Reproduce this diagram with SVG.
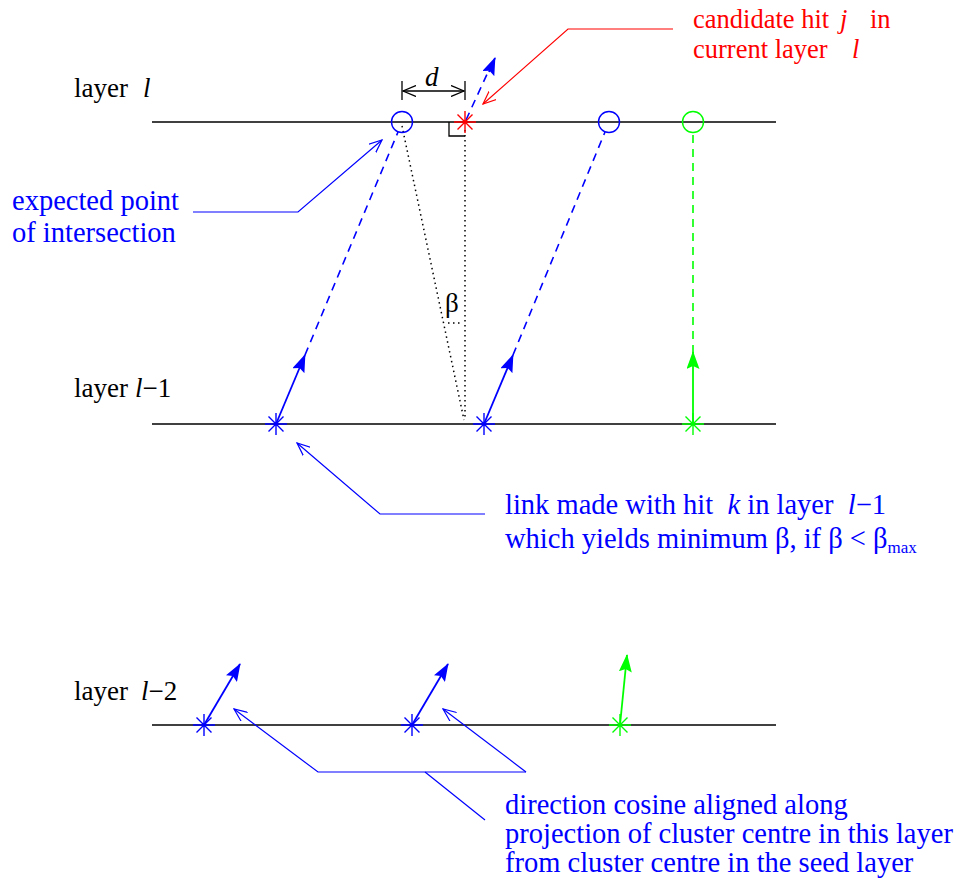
<svg xmlns="http://www.w3.org/2000/svg" width="960" height="881" viewBox="0 0 960 881">
<defs>
<style>
.t{font-family:"Liberation Serif","Times New Roman",serif;font-size:27px}
.bk{fill:#000}.bl{fill:#0000ff;font-size:28.5px}.rd{fill:#ff0000;font-size:26.5px}
.it{font-style:italic}
.layer{stroke:#000;stroke-width:1.6;fill:none}
.dot{stroke:#000;stroke-width:1.5;stroke-dasharray:1.5 3.5;fill:none}
.bdash{stroke:#0000ff;stroke-width:1.6;stroke-dasharray:8 6;fill:none}
.gdash{stroke:#00ff00;stroke-width:1.6;stroke-dasharray:8 6;fill:none}
.barr{stroke:#0000ff;stroke-width:1.8;fill:none}
.garr{stroke:#00ff00;stroke-width:1.8;fill:none}
.bld{stroke:#0000ff;stroke-width:1.2;fill:none}
.rld{stroke:#ff0000;stroke-width:1.2;fill:none}
.bstar{stroke:#0000ff;stroke-width:1.4;fill:none}
.gstar{stroke:#00ff00;stroke-width:1.4;fill:none}
.rstar{stroke:#ff0000;stroke-width:1.4;fill:none}
</style>
<marker id="fb" markerUnits="userSpaceOnUse" viewBox="0 0 18 13" refX="17" refY="6.5" markerWidth="18" markerHeight="13" orient="auto"><path d="M0,0 L18,6.5 L0,13 L3,6.5 z" fill="#0000ff"/></marker>
<marker id="fg" markerUnits="userSpaceOnUse" viewBox="0 0 18 13" refX="17" refY="6.5" markerWidth="18" markerHeight="13" orient="auto"><path d="M0,0 L18,6.5 L0,13 L3,6.5 z" fill="#00ff00"/></marker>
<marker id="ob" markerUnits="userSpaceOnUse" viewBox="0 0 14 12" refX="13" refY="6" markerWidth="14" markerHeight="12" orient="auto"><path d="M0,0.5 L13,6 L0,11.5" fill="none" stroke="#0000ff" stroke-width="1.2"/></marker>
<marker id="or" markerUnits="userSpaceOnUse" viewBox="0 0 14 12" refX="13" refY="6" markerWidth="14" markerHeight="12" orient="auto"><path d="M0,0.5 L13,6 L0,11.5" fill="none" stroke="#ff0000" stroke-width="1.2"/></marker>
<marker id="ok" markerUnits="userSpaceOnUse" viewBox="0 0 14 12" refX="13" refY="6" markerWidth="14" markerHeight="12" orient="auto-start-reverse"><path d="M0,0.5 L13,6 L0,11.5" fill="none" stroke="#000" stroke-width="1.3"/></marker>
<g id="astar"><path d="M-11,0 H11 M0,-11 V11 M-7.5,-7.5 L7.5,7.5 M-7.5,7.5 L7.5,-7.5"/></g>
</defs>
<rect width="960" height="881" fill="#fff"/>

<g id="layers">
<line class="layer" x1="152" y1="122" x2="776" y2="122"/>
<line class="layer" x1="152" y1="424" x2="776" y2="424"/>
<line class="layer" x1="152" y1="725" x2="776" y2="725"/>
<text class="t bk" x="74" y="97">layer<tspan class="it" x="143">l</tspan></text>
<text class="t bk" x="74" y="397">layer<tspan class="it" x="135">l</tspan>−1</text>
<text class="t bk" x="74" y="700">layer<tspan class="it" x="141">l</tspan>−2</text>
</g>

<g id="connectors">
<line class="dot" x1="402" y1="126" x2="464" y2="420"/>
<line class="dot" x1="465" y1="130" x2="465" y2="420"/>
<line class="dot" x1="448" y1="323" x2="463" y2="323"/>
<path d="M449,122 V136 H465" stroke="#000" stroke-width="1.3" fill="none"/>
<line x1="402" y1="81" x2="402" y2="100" stroke="#000" stroke-width="1.3"/>
<line x1="465" y1="81" x2="465" y2="100" stroke="#000" stroke-width="1.3"/>
<line x1="403" y1="91" x2="464" y2="91" stroke="#000" stroke-width="1.3" marker-start="url(#ok)" marker-end="url(#ok)"/>
<line class="bdash" x1="305" y1="355" x2="398" y2="132"/>
<line class="bdash" x1="513" y1="355" x2="605" y2="132"/>
<line class="gdash" x1="693" y1="353" x2="693" y2="132"/>
<line class="bdash" x1="466" y1="120" x2="488" y2="72"/>
<line class="barr" x1="276" y1="424" x2="305" y2="355" marker-end="url(#fb)"/>
<line class="barr" x1="484" y1="424" x2="513" y2="355" marker-end="url(#fb)"/>
<line class="garr" x1="693" y1="424" x2="693" y2="352" marker-end="url(#fg)"/>
<line class="barr" x1="489" y1="72" x2="495" y2="58" marker-end="url(#fb)"/>
<line class="barr" x1="204" y1="725" x2="240" y2="664" marker-end="url(#fb)"/>
<line class="barr" x1="412" y1="725" x2="448" y2="664" marker-end="url(#fb)"/>
<line class="garr" x1="620" y1="725" x2="627" y2="655" marker-end="url(#fg)"/>
<polyline class="rld" points="673,29 568,29 483,104" marker-end="url(#or)"/>
<polyline class="bld" points="193,212 298,212 382,140" marker-end="url(#ob)"/>
<polyline class="bld" points="485,514 380,514 297,443" marker-end="url(#ob)"/>
<polyline class="bld" points="526,772 318,772 234,709" marker-end="url(#ob)"/>
<line class="bld" x1="526" y1="772" x2="443" y2="709" marker-end="url(#ob)"/>
<line class="bld" x1="425" y1="772" x2="485" y2="820"/>
</g>

<g id="circles">
<circle cx="402" cy="122" r="10.5" fill="none" stroke="#0000ff" stroke-width="1.4"/>
<circle cx="609" cy="122" r="10.5" fill="none" stroke="#0000ff" stroke-width="1.4"/>
<circle cx="693" cy="122" r="10.5" fill="none" stroke="#00ff00" stroke-width="1.4"/>
</g>

<g id="hits">
<use href="#astar" class="rstar" x="465" y="122"/>
<use href="#astar" class="bstar" x="276" y="424"/>
<use href="#astar" class="bstar" x="484" y="424"/>
<use href="#astar" class="gstar" x="693" y="424"/>
<use href="#astar" class="bstar" x="204" y="725"/>
<use href="#astar" class="bstar" x="412" y="725"/>
<use href="#astar" class="gstar" x="620" y="725"/>
</g>

<g id="labels">
<text class="t bk it" x="425" y="86">d</text>
<text class="t bk" x="445" y="312">β</text>
<text class="t rd" x="693" y="28">candidate hit<tspan class="it" x="840">j</tspan><tspan x="870">in</tspan></text>
<text class="t rd" x="693" y="58">current layer<tspan class="it" x="852">l</tspan></text>
<text class="t bl" x="12" y="210">expected point</text>
<text class="t bl" x="12" y="242">of intersection</text>
<text class="t bl" x="505" y="514" xml:space="preserve">link made with hit  <tspan class="it">k</tspan> in layer  <tspan class="it">l</tspan>−1</text>
<text class="t bl" x="505" y="548">which yields minimum β, if β &lt; β<tspan font-size="17" dy="5">max</tspan></text>
<text class="t bl" x="505" y="814">direction cosine aligned along</text>
<text class="t bl" x="505" y="843">projection of cluster centre in this layer</text>
<text class="t bl" x="505" y="872">from cluster centre in the seed layer</text>
</g>
</svg>
